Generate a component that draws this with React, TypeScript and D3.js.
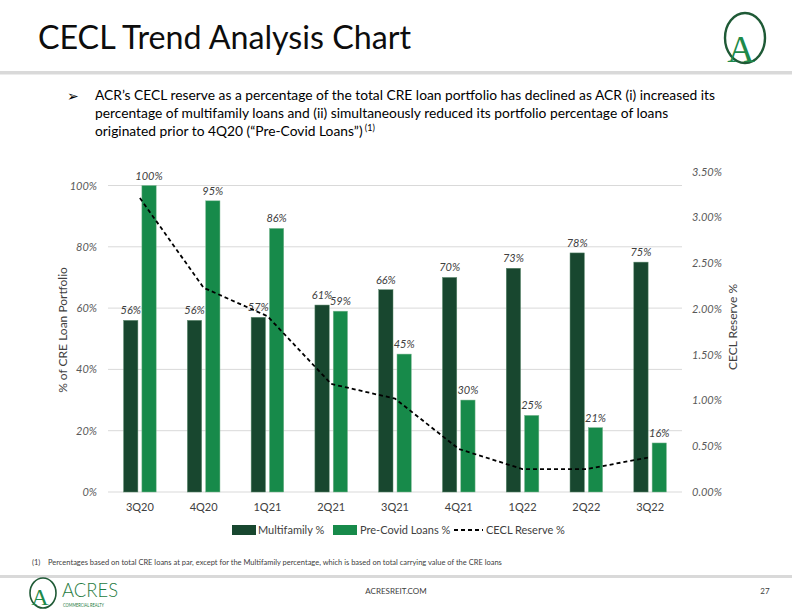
import React from 'react';
import * as d3 from 'd3';

const categories = ['3Q20', '4Q20', '1Q21', '2Q21', '3Q21', '4Q21', '1Q22', '2Q22', '3Q22'];
const multifamily = [56, 56, 57, 61, 66, 70, 73, 78, 75];
const preCovid = [100, 95, 86, 59, 45, 30, 25, 21, 16];
const ceclReserve = [3.21, 2.23, 1.92, 1.18, 1.02, 0.47, 0.25, 0.25, 0.38];
const leftTicks = [0, 20, 40, 60, 80, 100];
const rightTicks = [0, 0.5, 1, 1.5, 2, 2.5, 3, 3.5];
const bulletLines = [
  'ACR\u2019s CECL reserve as a percentage of the total CRE loan portfolio has declined as ACR (i) increased its',
  'percentage of multifamily loans and (ii) simultaneously reduced its portfolio percentage of loans',
  'originated prior to 4Q20 (\u201cPre-Covid Loans\u201d)',
];

const DARK = '#18472f';
const LIGHT = '#178a4a';
const FONT = "Lato, 'Open Sans', sans-serif";

export default function App() {
  const x = d3.scaleBand<string>().domain(categories).range([108, 682]);
  const yL = d3.scaleLinear().domain([0, 100]).range([492, 185.5]);
  const yR = d3.scaleLinear().domain([0, 3.5]).range([492, 171.5]);
  const bw = 14.3;
  const gap = 4;
  const cx = (c: string) => (x(c) as number) + x.bandwidth() / 2;
  const line = d3
    .line<number>()
    .x((_, i) => cx(categories[i]))
    .y((d) => yR(d));

  return (
    <svg
      width={792}
      height={612}
      style={{ position: 'absolute', left: 0, top: 0, background: '#fff' }}
      fontFamily={FONT}
    >
      {/* Title */}
      <text x={38} y={48.5} fontSize={32} fill="#0d0d0d" textLength={373} lengthAdjust="spacingAndGlyphs">CECL Trend Analysis Chart</text>
      <rect x={0} y={71} width={792} height={3.5} fill="#d9d9d9" />

      {/* Top-right logo */}
      <g>
        <ellipse cx={745} cy={38} rx={20} ry={25} fill="none" stroke="#1f5a36" strokeWidth={2.4} />
        <text x={741} y={62} fontSize={38} fontFamily="'Liberation Serif', 'DejaVu Serif', serif" fill="#1e8a4a" textAnchor="middle">A</text>
      </g>

      {/* Bullet text */}
      <text x={67} y={101} fontSize={14} fontFamily="'DejaVu Sans', sans-serif" fill="#000">{'\u27A2'}</text>
      {bulletLines.map((t, i) => (
        <text key={i} x={95} y={100 + i * 18} fontSize={13.8} fill="#000">
          {t}
          {i === 2 && (
            <tspan fontSize={9} dy={-5}>{' (1)'}</tspan>
          )}
        </text>
      ))}

      {/* Gridlines */}
      {leftTicks.map((t) => (
        <line key={t} x1={108} x2={682} y1={yL(t)} y2={yL(t)} stroke="#d9d9d9" strokeWidth={1} />
      ))}

      {/* Left ticks */}
      {leftTicks.map((t) => (
        <text key={t} x={97} y={yL(t) + 4} fontSize={11} fontStyle="italic" fill="#595959" textAnchor="end">{`${t}%`}</text>
      ))}
      {/* Right ticks */}
      {rightTicks.map((t) => (
        <text key={t} x={692} y={yR(t) + 4} fontSize={11} fontStyle="italic" fill="#595959" textAnchor="start">{`${t.toFixed(2)}%`}</text>
      ))}

      {/* Axis titles */}
      <text transform="translate(67,330) rotate(-90)" fontSize={12} fill="#404040" textAnchor="middle">% of CRE Loan Portfolio</text>
      <text transform="translate(737,327) rotate(-90)" fontSize={12} fill="#404040" textAnchor="middle">CECL Reserve %</text>

      {/* Bars */}
      {categories.map((c, i) => {
        const xc = cx(c);
        const xd = xc - gap / 2 - bw;
        const xl = xc + gap / 2;
        return (
          <g key={c}>
            <rect x={xd} y={yL(multifamily[i])} width={bw} height={yL(0) - yL(multifamily[i])} fill={DARK} stroke="#5d8a6e" strokeWidth={0.5} />
            <rect x={xl} y={yL(preCovid[i])} width={bw} height={yL(0) - yL(preCovid[i])} fill={LIGHT} stroke="#7fb893" strokeWidth={0.5} />
            <text x={xd + bw / 2} y={yL(multifamily[i]) - 6} fontSize={11} fontStyle="italic" fill="#404040" textAnchor="middle">{`${multifamily[i]}%`}</text>
            <text x={xl + bw / 2} y={yL(preCovid[i]) - 6} fontSize={11} fontStyle="italic" fill="#404040" textAnchor="middle">{`${preCovid[i]}%`}</text>
            <text x={xc} y={511} fontSize={11} fill="#404040" textAnchor="middle">{c}</text>
          </g>
        );
      })}

      {/* CECL line */}
      <path d={line(ceclReserve) as string} fill="none" stroke="#000" strokeWidth={1.8} strokeDasharray="4,3" />

      {/* Legend */}
      <g fontSize={11} fill="#404040">
        <rect x={232} y={525} width={24} height={10} fill={DARK} />
        <text x={258} y={534}>Multifamily %</text>
        <rect x={333} y={525} width={24} height={10} fill={LIGHT} />
        <text x={360} y={534}>Pre-Covid Loans %</text>
        <line x1={454} x2={483} y1={530} y2={530} stroke="#000" strokeWidth={1.8} strokeDasharray="4,3" />
        <text x={486} y={534}>CECL Reserve %</text>
      </g>

      {/* Footnote */}
      <text x={32} y={565} fontSize={7.5} fill="#404040">(1)</text>
      <text x={48} y={565} fontSize={7.5} fill="#404040">Percentages based on total CRE loans at par, except for the Multifamily percentage, which is based on total carrying value of the CRE loans</text>
      <rect x={0} y={575} width={792} height={3} fill="#d9d9d9" />

      {/* Bottom-left logo */}
      <g>
        <ellipse cx={43} cy={593} rx={13} ry={15} fill="none" stroke="#1f5a36" strokeWidth={1.6} />
        <text x={40} y={605} fontSize={24} fontFamily="'Liberation Serif', 'DejaVu Serif', serif" fill="#1e8a4a" textAnchor="middle">A</text>
        <text x={62} y={597} fontSize={20} fontWeight={300} fill="#1e7a40" textLength={56} lengthAdjust="spacingAndGlyphs">ACRES</text>
        <text x={63} y={607} fontSize={5} fill="#1e7a40" textLength={41} lengthAdjust="spacingAndGlyphs">COMMERCIAL REALTY</text>
      </g>
      <text x={396} y={594} fontSize={8} fill="#404040" textAnchor="middle">ACRESREIT.COM</text>
      <text x={765} y={594} fontSize={8} fill="#404040" textAnchor="middle">27</text>
    </svg>
  );
}
